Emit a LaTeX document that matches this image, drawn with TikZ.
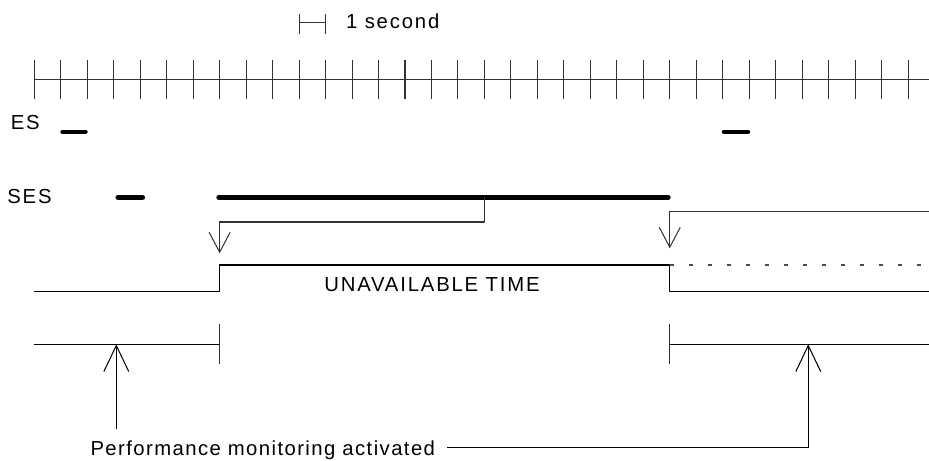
\documentclass[tikz,border=0pt]{standalone}
\usepackage{fontspec}
\setmainfont{Liberation Sans}[LetterSpace=9]
\usetikzlibrary{arrows.meta}
\begin{document}
\begin{tikzpicture}[x=0.5cm,y=0.5cm,line join=round,font=\fontsize{10.9}{12}\selectfont,
  thinline/.style={line width=0.55pt,black!80},
  esbar/.style={line width=2.2pt,line cap=round},
  sesbar/.style={line width=3pt,line cap=round},
  downarrow/.style={thinline,-{Straight Barb[length=10.7pt,width=11.3pt]}},
  uparrow/.style={line width=0.55pt,-{Straight Barb[length=14pt,width=13.4pt]}},
  lbl/.style={inner sep=0pt,anchor=base west}]
		\useasboundingbox (-1.295,-14.38) rectangle (33.79,2.995);
		% time axis, one tick per second
		\draw[thinline] (0,0) -- (33.79,0);
		\foreach \k in {0,...,33}
			\draw[thinline] (\k,-0.736) -- (\k,0.736);
		\draw[thinline] (10,1.70) -- (10,2.466) (10,2.137) -- (11,2.137) (11,1.70) -- (11,2.466);
		\node[lbl] (sec) at (11.76,1.937) {1 second};
		% errored seconds
		\node[lbl] (es) at (-0.9,-1.877) {ES};
		\draw[esbar] (1.06,-1.979) -- (1.94,-1.979);
		\draw[esbar] (26.04,-1.979) -- (26.96,-1.979);
		% severely errored seconds
		\node[lbl] (ses) at (-1.03,-4.709) {SES};
		\draw[sesbar] (3.17,-4.456) -- (4.08,-4.456);
		\coordinate (sesA) at (6.98,-4.456);
		\coordinate (sesB) at (23.93,-4.456);
		\draw[sesbar] (sesA) -- (sesB);
		\coordinate (tenth) at (17,-4.456);
		\coordinate (upT) at (7,-7.013);
		\coordinate (dnT) at (24,-7.013);
		\coordinate (tipA) at (7,-6.571);
		\coordinate (tipB) at (24,-6.382);
		\draw[downarrow] (tenth) |- (7,-5.389) -- (tipA);
		\draw[downarrow] (33.79,-5.0) -| (tipB);
		% availability state
		\draw[line width=0.55pt] (0,-8.02) -| (upT) -| (24,-8.02) -- (33.79,-8.02);
		\draw[line width=0.55pt,black!70,dash pattern=on 2.2pt off 8pt] (dnT) -- (33.79,-7.013);
		\node[inner sep=0pt,anchor=base] (ut) at (15.02,-8.006) {UNAVAILABLE TIME};
		% performance monitoring
		\draw[line width=0.55pt] (0,-10.01) -- (7,-10.01);
		\draw[thinline] (7,-9.255) -- (7,-10.765);
		\draw[thinline] (24,-9.255) -- (24,-10.765);
		\draw[line width=0.55pt] (24,-10.01) -- (33.79,-10.01);
		\node[lbl] (pm) at (2.11,-14.19) {\addfontfeatures{LetterSpace=7}Performance monitoring activated};
		\coordinate (pmL) at (3.097,-13.19);
		\coordinate (pmR) at (15.57,-13.9);
		\draw[uparrow] (pmL) -- (3.097,-10.01);
		\draw[uparrow] (pmR) -| (29.23,-10.01);
\end{tikzpicture}
\end{document}
